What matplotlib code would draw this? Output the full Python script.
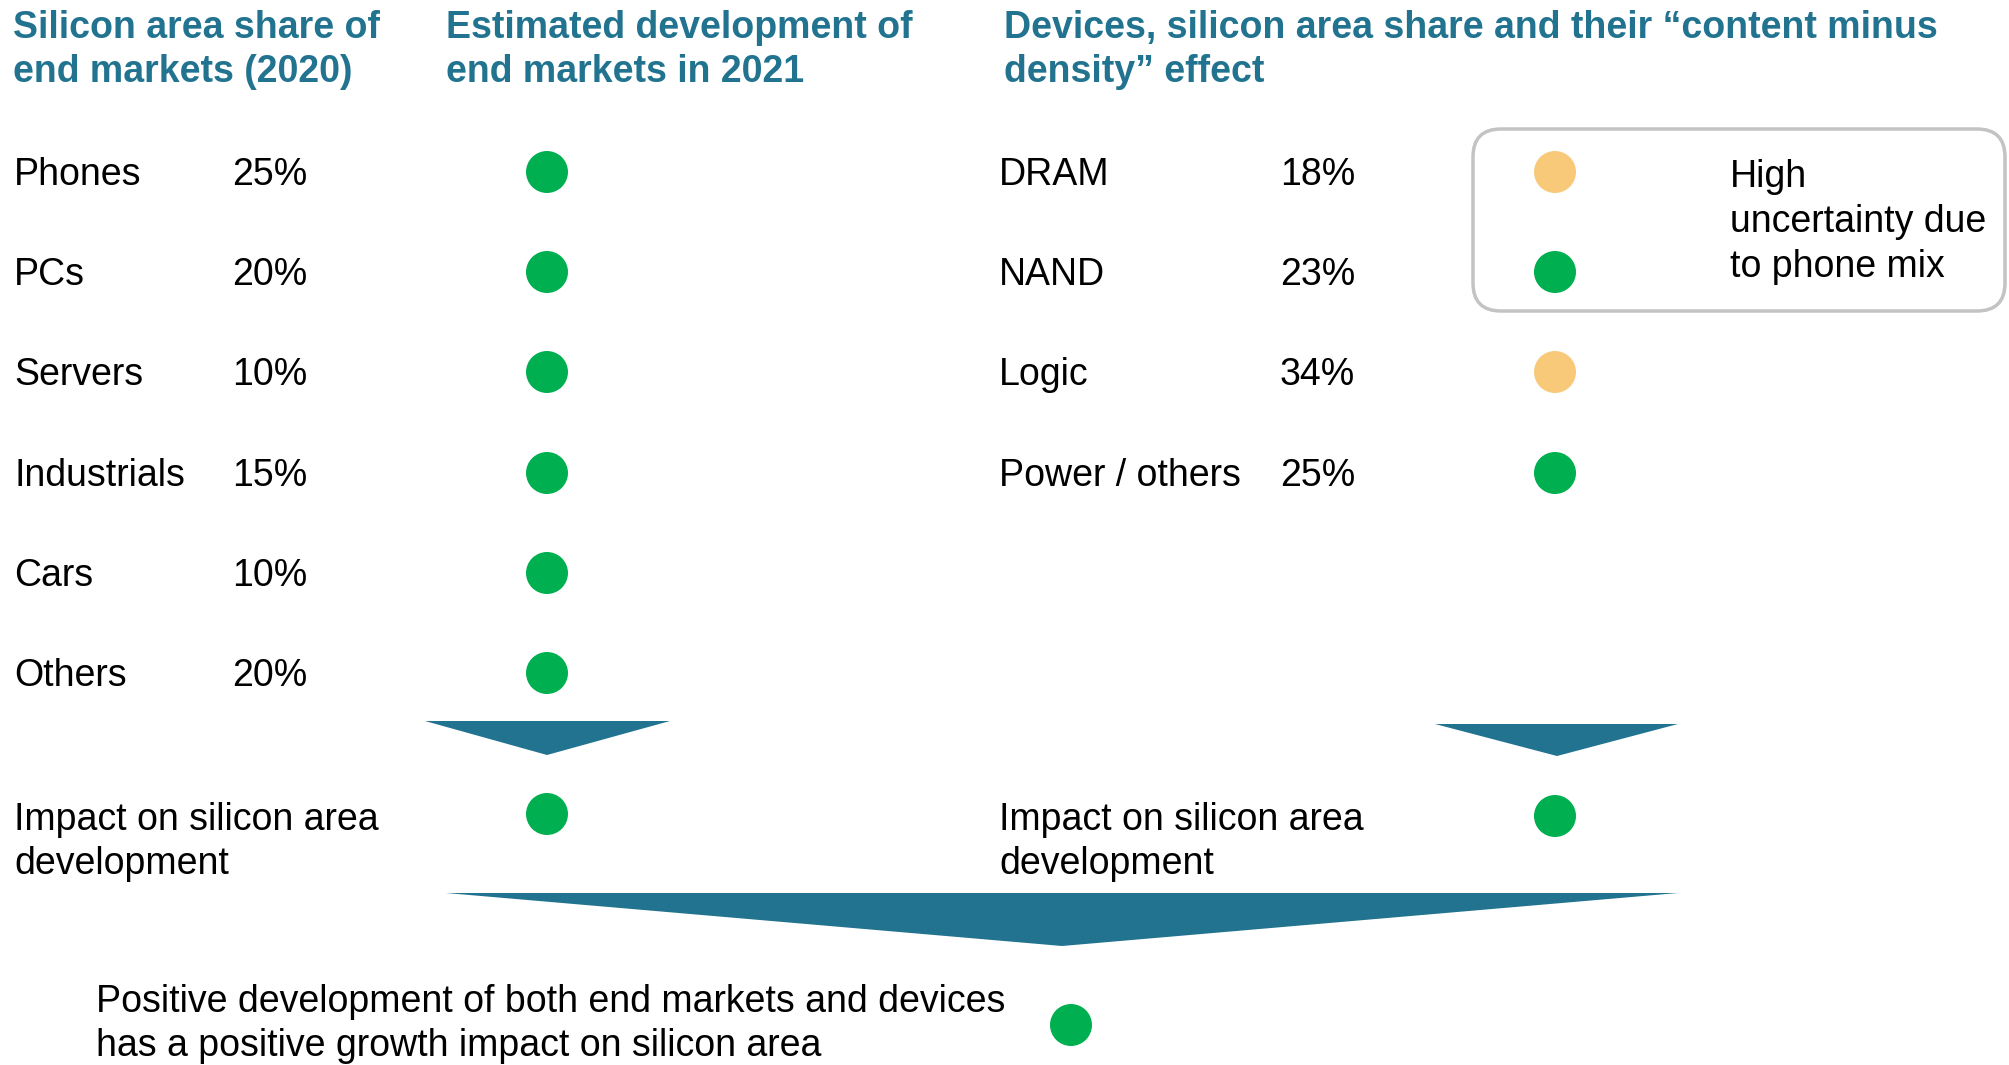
import matplotlib.pyplot as plt
from matplotlib.patches import Circle, Polygon, FancyBboxPatch

plt.rcParams['font.family'] = ['Liberation Sans', 'DejaVu Sans']

TEAL = '#21738F'
GREEN = '#00B050'
ORANGE = '#F7C978'
colors = {'up': GREEN, 'uncertain': ORANGE}

# data
titles = ['Silicon area share of\nend markets (2020)',
          'Estimated development of\nend markets in 2021',
          'Devices, silicon area share and their \u201ccontent minus\ndensity\u201d effect']
markets = ['Phones', 'PCs', 'Servers', 'Industrials', 'Cars', 'Others']
market_share = [25, 20, 10, 15, 10, 20]
market_status = ['up', 'up', 'up', 'up', 'up', 'up']
devices = ['DRAM', 'NAND', 'Logic', 'Power / others']
device_share = [18, 23, 34, 25]
device_status = ['uncertain', 'up', 'uncertain', 'up']
note = 'High\nuncertainty due\nto phone mix'
impact_label = 'Impact on silicon area\ndevelopment'
impact_status = ['up', 'up']
conclusion = ('Positive development of both end markets and devices\n'
              'has a positive growth impact on silicon area')
conclusion_status = 'up'

W, H = 2009, 1065
fig = plt.figure(figsize=(W / 100, H / 100), dpi=100)
ax = fig.add_axes([0, 0, 1, 1])
ax.set_xlim(0, W)
ax.set_ylim(H, 0)
ax.set_aspect('equal')
ax.axis('off')

fs = 27
ls = 1.32
r = 21
row_y = [172, 272, 372, 473, 573, 673]

# headers
for x, t in zip([13, 446, 1004], titles):
    ax.text(x, 50, t, color=TEAL, fontsize=fs, fontweight='bold',
            va='center', ha='left', linespacing=ls)


def dot(x, y, status):
    ax.add_patch(Circle((x, y), r, color=colors[status], lw=0))


# end markets
for y, name, share, st in zip(row_y, markets, market_share, market_status):
    ax.text(14, y + 3, name, fontsize=fs, va='center')
    ax.text(232, y + 3, f'{share}%', fontsize=fs, va='center')
    dot(547, y, st)

# devices
for y, name, share, st in zip(row_y, devices, device_share, device_status):
    ax.text(999, y + 3, name, fontsize=fs, va='center')
    ax.text(1280, y + 3, f'{share}%', fontsize=fs, va='center')
    dot(1555, y, st)

# note box
ax.add_patch(FancyBboxPatch((1473, 129), 532, 182,
                            boxstyle='round,pad=0,rounding_size=28',
                            fc='none', ec='#C3C3C3', lw=2.5))
ax.text(1730, 222, note, fontsize=fs, va='center', linespacing=ls)

# arrows
ax.add_patch(Polygon([(425, 721), (670, 721), (547, 755)], color=TEAL, lw=0))
ax.add_patch(Polygon([(1435, 724), (1678, 724), (1557, 756)], color=TEAL, lw=0))
ax.add_patch(Polygon([(446, 893), (1678, 893), (1062, 946)], color=TEAL, lw=0))

# impact rows
ax.text(14, 842, impact_label, fontsize=fs, va='center', linespacing=ls)
dot(547, 814, impact_status[0])
ax.text(999, 842, impact_label, fontsize=fs, va='center', linespacing=ls)
dot(1555, 816, impact_status[1])

# conclusion
ax.text(96, 1024, conclusion, fontsize=fs, va='center', linespacing=ls)
dot(1071, 1025, conclusion_status)

fig.savefig('out.png', dpi=100)
